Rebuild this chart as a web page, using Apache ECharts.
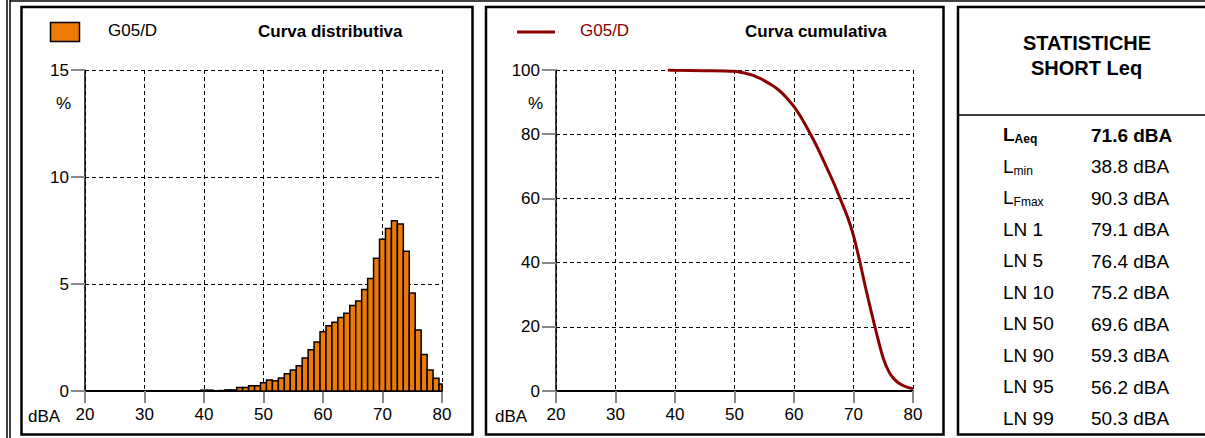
<!DOCTYPE html>
<html>
<head>
<meta charset="utf-8">
<script src="https://cdn.jsdelivr.net/npm/echarts@6/dist/echarts.min.js"></script>
<style>
  html, body { margin: 0; padding: 0; background: #fff; }
  #main { width: 1205px; height: 438px; }
</style>
</head>
<body>
<div id="main"></div>
<script>
// distribuzione percentuale per classi di 1 dB
const binsDBA = [39, 40, 41, 42, 43, 44, 45, 46, 47, 48, 49, 50, 51, 52, 53, 54, 55, 56, 57, 58, 59,
  60, 61, 62, 63, 64, 65, 66, 67, 68, 69, 70, 71, 72, 73, 74, 75, 76, 77, 78, 79, 80];
const distPct = [0.01, 0.04, 0.04, 0.01, 0.02, 0.05, 0.05, 0.16, 0.16, 0.25, 0.25, 0.39, 0.51, 0.48, 0.61, 0.81, 0.98, 1.18, 1.54, 1.93, 2.29,
  2.77, 3.05, 3.21, 3.44, 3.63, 4.0, 4.21, 4.74, 5.26, 6.2, 7.09, 7.59, 7.96, 7.8, 6.53, 4.58, 2.85, 1.71, 0.98, 0.59, 0.33];

// curva cumulativa (percentuale di superamento)
const cumDBA = [38.8, 40, 45, 50, 51, 52, 53, 54, 55, 56, 57, 58, 59, 60, 61, 62, 63, 64, 65, 66, 67, 68, 69,
  70, 71, 72, 73, 74, 75, 76, 77, 78, 79, 80];
const cumPct = [100, 99.9, 99.8, 99.6, 99.3, 98.9, 98.4, 97.6, 96.7, 95.6, 94.4, 92.8, 90.8, 88.6, 85.8, 82.6, 79.2, 75.6, 71.6, 67.6, 63.4, 58.8, 54.2,
  48.4, 40.8, 32.4, 24.6, 17.0, 10.2, 5.8, 3.4, 2.0, 1.2, 0.7];

// tabella statistiche
const statNames = ['L', 'L', 'L', 'LN 1', 'LN 5', 'LN 10', 'LN 50', 'LN 90', 'LN 95', 'LN 99'];
const statSubs = ['Aeq', 'min', 'Fmax', '', '', '', '', '', '', ''];
const statValues = ['71.6 dBA', '38.8 dBA', '90.3 dBA', '79.1 dBA', '76.4 dBA', '75.2 dBA', '69.6 dBA', '59.3 dBA', '56.2 dBA', '50.3 dBA'];

const FONT = '"Liberation Sans", Arial, sans-serif';
const ORANGE = '#EE7A06';
const DARKRED = '#8B0000';

const myChart = echarts.init(document.getElementById('main'), null, { renderer: 'svg' });

function xAxisFor(gi) {
  return {
    type: 'value', gridIndex: gi, min: 20, max: 80, interval: 10,
    axisLine: { show: true, onZero: false, lineStyle: { color: '#000', width: 2 } },
    axisTick: { show: true, length: 12, lineStyle: { color: '#888', width: 2 } },
    axisLabel: { color: '#000', fontSize: 17, fontFamily: FONT, margin: 15 },
    splitLine: { show: true, lineStyle: { color: '#000', type: [4, 3], width: 1 } }
  };
}
function yAxisFor(gi, max, interval) {
  return {
    type: 'value', gridIndex: gi, min: 0, max: max, interval: interval,
    axisLine: { show: true, lineStyle: { color: '#000', width: 1.5 } },
    axisTick: { show: true, length: 14, lineStyle: { color: '#888', width: 2 } },
    axisLabel: { color: '#000', fontSize: 17, fontFamily: FONT, margin: 16 },
    splitLine: { show: true, lineStyle: { color: '#000', type: [4, 3], width: 1 } }
  };
}

// testo con pedice per la tabella
const statGraphics = [];
statNames.forEach(function (n, i) {
  const y = 135 + i * 31.5;
  const bold = i === 0;
  const w = bold ? 'bold' : 'normal';
  statGraphics.push({
    type: 'text', left: 1003, top: y - 10,
    style: {
      text: statSubs[i] ? '{m|' + n + '}{s|' + statSubs[i] + '}' : '{m|' + n + '}',
      rich: {
        m: { fontSize: 19, fontFamily: FONT, fontWeight: w, fill: '#000', lineHeight: 22, verticalAlign: 'bottom' },
        s: { fontSize: 12, fontFamily: FONT, fontWeight: w, fill: '#000', lineHeight: 22, verticalAlign: 'bottom', padding: [0, 0, -1, 0] }
      }
    }
  });
  statGraphics.push({
    type: 'text', left: 1091, top: y - 11,
    style: { text: statValues[i], fontSize: 19, fontFamily: FONT, fontWeight: w, fill: '#000', lineHeight: 22 }
  });
});

myChart.setOption({
  backgroundColor: '#fff',
  animation: false,
  grid: [
    { left: 85, top: 70, width: 357, height: 321 },
    { left: 556, top: 70, width: 357, height: 321 }
  ],
  xAxis: [
    xAxisFor(0), xAxisFor(1),
    // bordo superiore del grafico distributivo
    { type: 'value', gridIndex: 0, position: 'top', min: 20, max: 80,
      axisLine: { show: true, lineStyle: { color: '#000', width: 1 } },
      axisTick: { show: false }, axisLabel: { show: false }, splitLine: { show: false } }
  ],
  yAxis: [yAxisFor(0, 15, 5), yAxisFor(1, 100, 20)],
  series: [
    {
      type: 'custom', xAxisIndex: 0, yAxisIndex: 0,
      data: binsDBA.map(function (d, i) { return [d, distPct[i]]; }),
      renderItem: function (params, api) {
        const x = api.value(0), v = api.value(1);
        const p0 = api.coord([x - 0.5, v]);
        const p1 = api.coord([x + 0.5, 0]);
        const cs = params.coordSys;
        const shape = echarts.graphic.clipRectByRect(
          { x: p0[0], y: p0[1], width: p1[0] - p0[0], height: p1[1] - p0[1] },
          { x: cs.x, y: cs.y, width: cs.width, height: cs.height });
        return shape && { type: 'rect', shape: shape, style: { fill: ORANGE, stroke: '#000', lineWidth: 1.5 } };
      }
    },
    {
      type: 'line', xAxisIndex: 1, yAxisIndex: 1, smooth: 0.3, symbol: 'none',
      data: cumDBA.map(function (d, i) { return [d, cumPct[i]]; }),
      lineStyle: { color: DARKRED, width: 3 }
    }
  ],
  graphic: [
    // cornici
    { type: 'line', shape: { x1: 7, y1: 0, x2: 7, y2: 438 }, style: { stroke: '#000', lineWidth: 1.5 } },
    { type: 'line', shape: { x1: 10, y1: 0, x2: 10, y2: 438 }, style: { stroke: '#000', lineWidth: 1.5 } },
    { type: 'line', shape: { x1: 10, y1: 1, x2: 1205, y2: 1 }, style: { stroke: '#000', lineWidth: 1.5 } },
    { type: 'rect', shape: { x: 21.5, y: 7, width: 451, height: 427.5 }, style: { fill: 'none', stroke: '#000', lineWidth: 2.5 } },
    { type: 'rect', shape: { x: 486, y: 7, width: 457.5, height: 427.5 }, style: { fill: 'none', stroke: '#000', lineWidth: 2.5 } },
    { type: 'rect', shape: { x: 958, y: 7, width: 320, height: 427.5 }, style: { fill: 'none', stroke: '#000', lineWidth: 2.5 } },
    { type: 'line', shape: { x1: 958, y1: 115, x2: 1205, y2: 115 }, style: { stroke: '#000', lineWidth: 1.5 } },

    // legenda e titolo grafico distributivo
    { type: 'rect', shape: { x: 50.5, y: 22.5, width: 29, height: 19 }, style: { fill: ORANGE, stroke: '#000', lineWidth: 1.5 } },
    { type: 'text', left: 108, top: 22, style: { text: 'G05/D', fontSize: 17, fontFamily: FONT, fill: '#000' } },
    { type: 'text', left: 258, top: 23, style: { text: 'Curva distributiva', fontSize: 17, fontWeight: 'bold', fontFamily: FONT, fill: '#000' } },
    { type: 'text', left: 56, top: 95, style: { text: '%', fontSize: 17, fontFamily: FONT, fill: '#000' } },
    { type: 'text', left: 28, top: 408, style: { text: 'dBA', fontSize: 17, fontFamily: FONT, fill: '#000' } },

    // legenda e titolo grafico cumulativo
    { type: 'line', shape: { x1: 517, y1: 32, x2: 555, y2: 32 }, style: { stroke: DARKRED, lineWidth: 3 } },
    { type: 'text', left: 580, top: 22, style: { text: 'G05/D', fontSize: 17, fontFamily: FONT, fill: DARKRED } },
    { type: 'text', left: 745, top: 23, style: { text: 'Curva cumulativa', fontSize: 17, fontWeight: 'bold', fontFamily: FONT, fill: '#000' } },
    { type: 'text', left: 528, top: 95, style: { text: '%', fontSize: 17, fontFamily: FONT, fill: '#000' } },
    { type: 'text', left: 495, top: 408, style: { text: 'dBA', fontSize: 17, fontFamily: FONT, fill: '#000' } },

    // tabella
    { type: 'text', left: 1023, top: 33, style: { text: 'STATISTICHE', fontSize: 20, fontWeight: 'bold', fontFamily: FONT, fill: '#000' } },
    { type: 'text', left: 1031, top: 58, style: { text: 'SHORT Leq', fontSize: 20, fontWeight: 'bold', fontFamily: FONT, fill: '#000' } }
  ].concat(statGraphics)
});
</script>
</body>
</html>
